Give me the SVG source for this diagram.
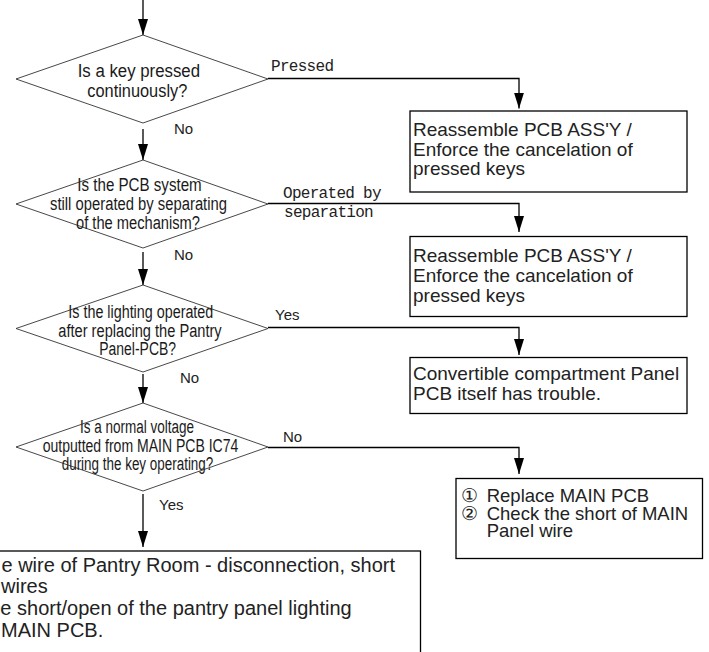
<svg xmlns="http://www.w3.org/2000/svg" width="709" height="652" viewBox="0 0 709 652">
<style>
.bg{fill:#fff}
.dia{fill:#fff;stroke:#333;stroke-width:0.9}
.box{fill:#fff;stroke:#000;stroke-width:1.3}
.con{fill:none;stroke:#000;stroke-width:1.3}
.q{font-family:"Liberation Sans",Arial,sans-serif;font-size:18px;fill:#1a1a1a}
.t{font-family:"Liberation Sans",Arial,sans-serif;font-size:19px;fill:#222}
.t4{font-family:"Liberation Sans",Arial,sans-serif;font-size:18.5px;fill:#222}
.tb{font-family:"Liberation Sans",Arial,sans-serif;font-size:20px;fill:#222}
.lb{font-family:"Liberation Sans",Arial,sans-serif;font-size:15px;fill:#222}
.mono{font-family:"Liberation Mono","DejaVu Sans Mono",monospace;font-size:16px;letter-spacing:-0.7px;fill:#222}
</style>
<defs>
<marker id="ah" markerUnits="userSpaceOnUse" markerWidth="16" markerHeight="10" refX="16" refY="5" orient="auto">
<path d="M0,0 L16,5 L0,10 Z" fill="#000"/>
</marker>
</defs>
<rect class="bg" x="0" y="0" width="709" height="652"/>

<g id="connectors">
<line class="con" x1="143" y1="0" x2="143" y2="35" marker-end="url(#ah)"/>
<line class="con" x1="143" y1="129" x2="143" y2="160" marker-end="url(#ah)"/>
<line class="con" x1="143" y1="252" x2="143" y2="285" marker-end="url(#ah)"/>
<line class="con" x1="143" y1="374" x2="143" y2="403" marker-end="url(#ah)"/>
<line class="con" x1="143" y1="494" x2="143" y2="547" marker-end="url(#ah)"/>
<polyline class="con" points="268,78.5 519,78.5 519,108.5" marker-end="url(#ah)"/>
<polyline class="con" points="268,203.5 519,203.5 519,232" marker-end="url(#ah)"/>
<polyline class="con" points="268,327.5 519,327.5 519,355" marker-end="url(#ah)"/>
<polyline class="con" points="268,447.5 519,447.5 519,474" marker-end="url(#ah)"/>
<text class="mono" x="271" y="71">Pressed</text>
<text class="mono" x="283" y="197.5">Operated by</text>
<text class="mono" x="284" y="216.5">separation</text>
<text class="lb" x="275" y="320">Yes</text>
<text class="lb" x="283" y="441.5">No</text>
<text class="lb" x="174" y="133.5">No</text>
<text class="lb" x="174" y="259.5">No</text>
<text class="lb" x="180" y="383">No</text>
<text class="lb" x="159" y="510">Yes</text>
</g>

<g id="d1">
<polygon class="dia" points="143,35 268,79 143,123 16,79"/>
<text class="q" x="77.7" y="77.3" textLength="122.3" lengthAdjust="spacingAndGlyphs">Is a key pressed</text>
<text class="q" x="87.3" y="96.7" textLength="100" lengthAdjust="spacingAndGlyphs">continuously?</text>
</g>

<g id="d2">
<polygon class="dia" points="143,160 268,204 143,248 16,204"/>
<text class="q" x="77.3" y="190.5" textLength="124.4" lengthAdjust="spacingAndGlyphs">Is the PCB system</text>
<text class="q" x="50" y="210" textLength="177" lengthAdjust="spacingAndGlyphs">still operated by separating</text>
<text class="q" x="76" y="228.5" textLength="124" lengthAdjust="spacingAndGlyphs">of the mechanism?</text>
</g>

<g id="d3">
<polygon class="dia" points="143,285 268,328.5 143,372 16,328.5"/>
<text class="q" x="68.3" y="318.3" textLength="145" lengthAdjust="spacingAndGlyphs">Is the lighting operated</text>
<text class="q" x="58.3" y="336.7" textLength="163.4" lengthAdjust="spacingAndGlyphs">after replacing the Pantry</text>
<text class="q" x="99.3" y="355" textLength="76.7" lengthAdjust="spacingAndGlyphs">Panel-PCB?</text>
</g>

<g id="d4">
<polygon class="dia" points="143,403 268,447 143,491 16,447"/>
<text class="q" x="80" y="432.7" textLength="114" lengthAdjust="spacingAndGlyphs">Is a normal voltage</text>
<text class="q" x="42.7" y="451.7" textLength="195.6" lengthAdjust="spacingAndGlyphs">outputted from MAIN PCB IC74</text>
<text class="q" x="61.7" y="470" textLength="151.6" lengthAdjust="spacingAndGlyphs">during the key operating?</text>
</g>

<g id="b1">
<rect class="box" x="410" y="111" width="277" height="81"/>
<text class="t" x="413" y="135.5">Reassemble PCB ASS'Y /</text>
<text class="t" x="413" y="155.5">Enforce the cancelation of</text>
<text class="t" x="413" y="175">pressed keys</text>
</g>

<g id="b2">
<rect class="box" x="410" y="236.5" width="277" height="80"/>
<text class="t" x="413" y="261.7">Reassemble PCB ASS'Y /</text>
<text class="t" x="413" y="281.7">Enforce the cancelation of</text>
<text class="t" x="413" y="301.7">pressed keys</text>
</g>

<g id="b3">
<rect class="box" x="410" y="357.5" width="277" height="56"/>
<text class="t" x="413" y="380">Convertible compartment Panel</text>
<text class="t" x="413" y="400">PCB itself has trouble.</text>
</g>

<g id="b4">
<rect class="box" x="456" y="478.5" width="246.5" height="80"/>
<text class="t4" y="502"><tspan x="461">①</tspan><tspan x="486.7">Replace MAIN PCB</tspan></text>
<text class="t4" y="519.5"><tspan x="461">②</tspan><tspan x="486.7">Check the short of MAIN</tspan></text>
<text class="t4" x="486.7" y="537">Panel wire</text>
</g>

<g id="b5">
<rect class="box" x="-2" y="551" width="422.5" height="120"/>
<text class="tb" x="395" y="571.7" text-anchor="end">e wire of Pantry Room - disconnection, short</text>
<text class="tb" x="1" y="593.3">wires</text>
<text class="tb" x="351.7" y="615" text-anchor="end">e short/open of the pantry panel lighting</text>
<text class="tb" x="1" y="636.5">MAIN PCB.</text>
</g>
</svg>
